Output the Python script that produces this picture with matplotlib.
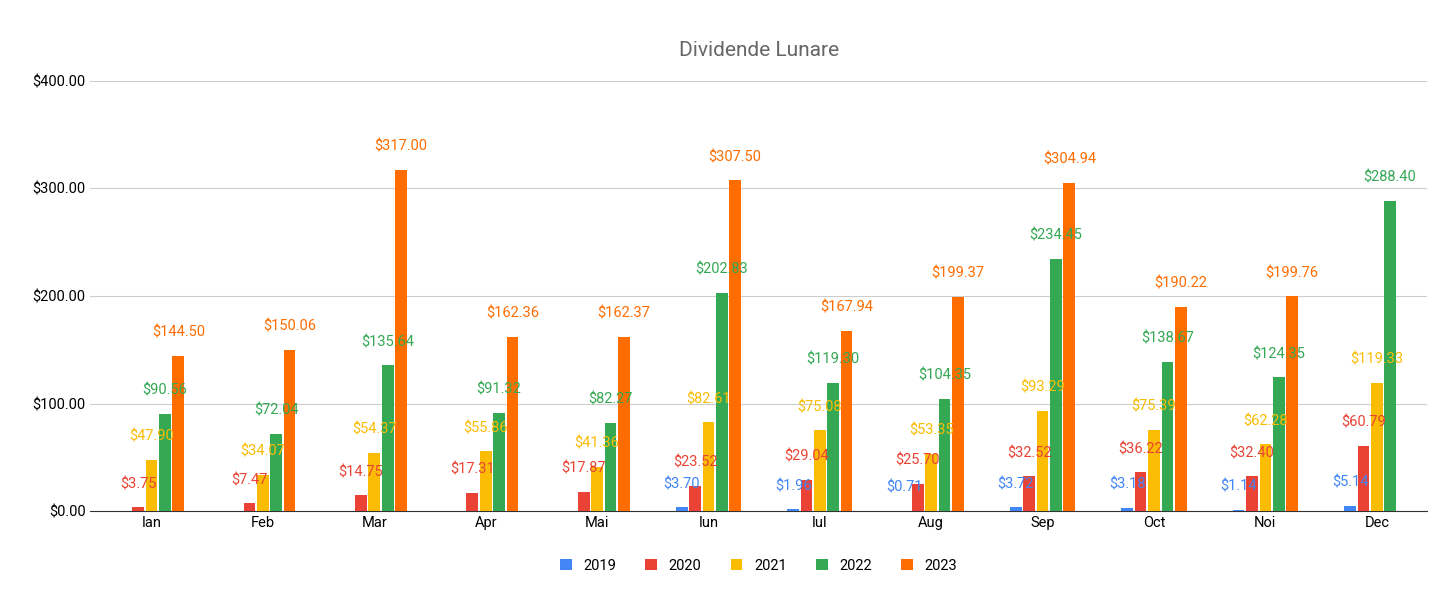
import numpy as np
import matplotlib.pyplot as plt

plt.rcParams['font.family'] = ['Roboto', 'DejaVu Sans']

months = ['Ian', 'Feb', 'Mar', 'Apr', 'Mai', 'Iun', 'Iul', 'Aug', 'Sep', 'Oct', 'Noi', 'Dec']
years = ['2019', '2020', '2021', '2022', '2023']
v2019 = [0, 0, 0, 0, 0, 3.70, 1.96, 0.71, 3.72, 3.18, 1.14, 5.14]
v2020 = [3.75, 7.47, 14.75, 17.31, 17.87, 23.52, 29.04, 25.70, 32.52, 36.22, 32.40, 60.79]
v2021 = [47.90, 34.07, 54.37, 55.86, 41.36, 82.61, 75.08, 53.35, 93.29, 75.39, 62.28, 119.33]
v2022 = [90.56, 72.04, 135.64, 91.32, 82.27, 202.83, 119.30, 104.35, 234.45, 138.67, 124.35, 288.40]
v2023 = [144.50, 150.06, 317.00, 162.36, 162.37, 307.50, 167.94, 199.37, 304.94, 190.22, 199.76, 0]
series = [v2019, v2020, v2021, v2022, v2023]
colors = ['#4285F4', '#EA4335', '#FBBC04', '#34A853', '#FF6D01']

fig, ax = plt.subplots(figsize=(14.56, 5.98), dpi=100)
fig.subplots_adjust(left=0.062, right=0.98, top=0.865, bottom=0.145)
x = np.arange(len(months))
step = 0.12
w = 0.105
for k, (vals, c, yr) in enumerate(zip(series, colors, years)):
    pos = x + (k - 2) * step
    ax.bar(pos, vals, width=w, color=c, label=yr, zorder=3)
    for p, v in zip(pos, vals):
        if v > 0:
            ax.text(p, v + 15, '$%.2f' % v, ha='center', va='bottom', color=c, fontsize=10.5, zorder=4)

ax.set_ylim(0, 400)
ax.set_xlim(-0.55, 11.45)
ax.set_yticks([0, 100, 200, 300, 400])
ax.set_yticklabels(['$%.2f' % t for t in [0, 100, 200, 300, 400]])
ax.set_xticks(x)
ax.set_xticklabels(months)
ax.tick_params(length=0, labelsize=10.5)
ax.grid(axis='y', color='#cccccc', zorder=0)
for s in ['top', 'right', 'left']:
    ax.spines[s].set_visible(False)
ax.spines['bottom'].set_color('#333333')
ax.set_title('Dividende Lunare', color='#666666', fontsize=15, pad=18)
ax.legend(loc='upper center', bbox_to_anchor=(0.5, -0.08), ncol=5, frameon=False,
          handlelength=0.8, handleheight=0.8, fontsize=10.5, columnspacing=2)
fig.savefig('out.png')
